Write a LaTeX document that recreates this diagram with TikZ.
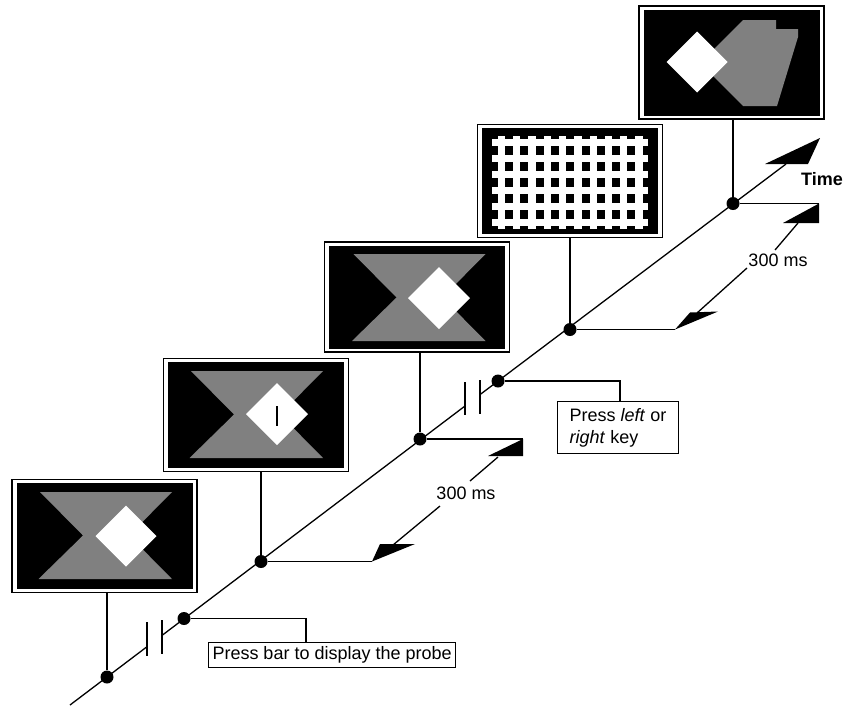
\documentclass[tikz,border=0pt]{standalone}
\usepackage{fontspec}
\setmainfont{Liberation Sans}
\usetikzlibrary{calc}
\definecolor{midgray}{RGB}{128,128,128}
\newcommand\hglass[2]{\begin{scope}[shift={(#1,#2)}]\fill[midgray] (-66,-43.5) -- (66,-43.5) -- (23,0) -- (66,43.5) -- (-67.5,43.5) -- (-23,0) -- cycle;\end{scope}}
\newcommand\dmd[3]{\fill[white] ({#1-#3},#2) -- (#1,{#2-#3}) -- ({#1+#3},#2) -- (#1,{#2+#3}) -- cycle;}
\begin{document}
\begin{tikzpicture}[x=1pt,y=-1pt,
  frame/.style={draw=black, line width=1.2pt, fill=white, minimum width=185pt, minimum height=113pt, inner sep=0pt},
  panel/.style={fill=black, minimum width=176pt, minimum height=106pt, inner sep=0pt},
  dot/.style={circle, fill=black, minimum size=13pt, inner sep=0pt},
  ln/.style={line width=1.3pt},
  lab/.style={font=\fontsize{18}{22}\selectfont, inner sep=1.5pt, fill=white},
  box/.style={draw, line width=1pt, font=\fontsize{18}{22}\selectfont, anchor=north west, align=left},
  tipfill/.style={fill=black}
]
\useasboundingbox (0,0) rectangle (843,705);

% ---------- screens ----------
% screen 1
\node[frame] (s1) at (104.5,536) {};
\node[panel] at (s1) {};
\hglass{106}{535.5}
\dmd{126}{536}{30.5}
% screen 2
\node[frame] (s2) at (256,415) {};
\node[panel] at (s2) {};
\hglass{257}{414.5}
\dmd{277}{414}{31}
\draw[line width=1.3pt] (277,406) -- (277,426);
% screen 3
\node[frame, minimum height=110pt] (s3) at (417,297) {};
\node[panel, minimum height=103pt] at (s3) {};
\hglass{419.5}{297.5}
\dmd{439}{298}{31}
% screen 4 (grid)
\node[frame] (s4) at (570,181) {};
\node[panel] at (s4) {};
\foreach \k in {0,...,5} {\fill[white] (492,{139+16*\k}) rectangle (648,{146+16*\k});}
\foreach \j in {0,...,9} {\fill[white] ({497.7+15.3*\j},136) rectangle ({505+15.3*\j},229);}
% screen 5
\node[frame] (s5) at (731.5,62.5) {};
\node[panel] at (s5) {};
\begin{scope}[shift={(731.5,62.5)}]
\fill[midgray] (11.5,-42.5) -- (44.5,-42.5) -- (44.5,-33.5) -- (66.5,-33.5) -- (66.5,-25.5) -- (45.5,43.5) -- (11.5,43.5) -- (-18.5,13.5) -- (-25,0) -- (-20,-11) -- cycle;
\end{scope}
\dmd{697}{62}{30.5}

% ---------- time axis ----------
\coordinate (a0) at (70,705);
\coordinate (k1a) at (147,646.7);
\coordinate (k1b) at (162,635.4);
\coordinate (k2a) at (465,406);
\coordinate (k2b) at (480,394.6);
\coordinate (aend) at (786,164);
\draw[ln] (a0) -- (k1a);
\draw[ln] (k1b) -- (k2a);
\draw[ln] (k2b) -- (aend);
\fill[tipfill] (820,138) -- (808,164) -- (765,164) -- cycle;
% break marks
\draw[ln] (147,622) -- (147,656);
\draw[ln] (162,620) -- (162,654);
\draw[ln] (465,382) -- (465,415);
\draw[ln] (480,380) -- (480,414);

% ---------- dots ----------
\node[dot] (t1) at (107,677) {};
\node[dot] (p1) at (184,618.5) {};
\node[dot] (t2) at (261,561.5) {};
\node[dot] (t3) at (420,439) {};
\node[dot] (p2) at (498,381) {};
\node[dot] (t4) at (570,329.5) {};
\node[dot] (t5) at (733,203.5) {};

% stems
\draw[ln] (t1) -- (t1 |- s1.south);
\draw[ln] (t2) -- (t2 |- s2.south);
\draw[ln] (t3) -- (t3 |- s3.south);
\draw[ln] (t4) -- (t4 |- s4.south);
\draw[ln] (t5) -- (t5 |- s5.south);

% ---------- 300 ms dimensions ----------
\coordinate (e1) at (372,561.5);
\coordinate (e2) at (523,439);
\coordinate (e3) at (675,329.5);
\coordinate (e4) at (819,203.5);
\draw[ln] (t2) -- (e1);
\draw[ln] (t3) -- (e2);
\draw[ln] (t4) -- (e3);
\draw[ln] (t5) -- (e4);
\fill[tipfill] (e1) -- (380,544) -- (415,544) -- cycle;
\fill[tipfill] (e2) -- (523,456) -- (488,456) -- cycle;
\fill[tipfill] (e3) -- (690,312.5) -- (718,311.5) -- cycle;
\fill[tipfill] (e4) -- (819,223) -- (783,223) -- cycle;
\coordinate (m1a) at (393,545); \coordinate (m1b) at (440,506);
\coordinate (m1c) at (470,481); \coordinate (m1d) at (498,457);
\coordinate (m2a) at (697,313); \coordinate (m2b) at (747,268);
\coordinate (m2c) at (775,250); \coordinate (m2d) at (798,223);
\draw[ln] (m1a) -- (m1b); \draw[ln] (m1c) -- (m1d);
\draw[ln] (m2a) -- (m2b); \draw[ln] (m2c) -- (m2d);
\node[lab, fill=none] (ms1) at (466,493.5) {300 ms};
\node[lab, fill=none] (ms2) at (778,260) {300 ms};
\node[font=\bfseries\fontsize{18}{22}\selectfont, anchor=west, inner sep=0pt] (time) at (801,179) {Time};

% ---------- response boxes ----------
\node[box, inner xsep=4pt, inner ysep=2pt, minimum height=25pt] (bx1) at (208,642) {Press bar to display the probe};
\node[box, minimum width=121pt, minimum height=52pt, inner sep=0pt] (bx2) at (557,401) {Press \textit{left} or\\\textit{right} key};
\draw[ln] (p1) -| ([xshift=98pt]bx1.north west);
\draw[ln] (p2) -| ([xshift=63pt]bx2.north west);
\end{tikzpicture}
\end{document}
